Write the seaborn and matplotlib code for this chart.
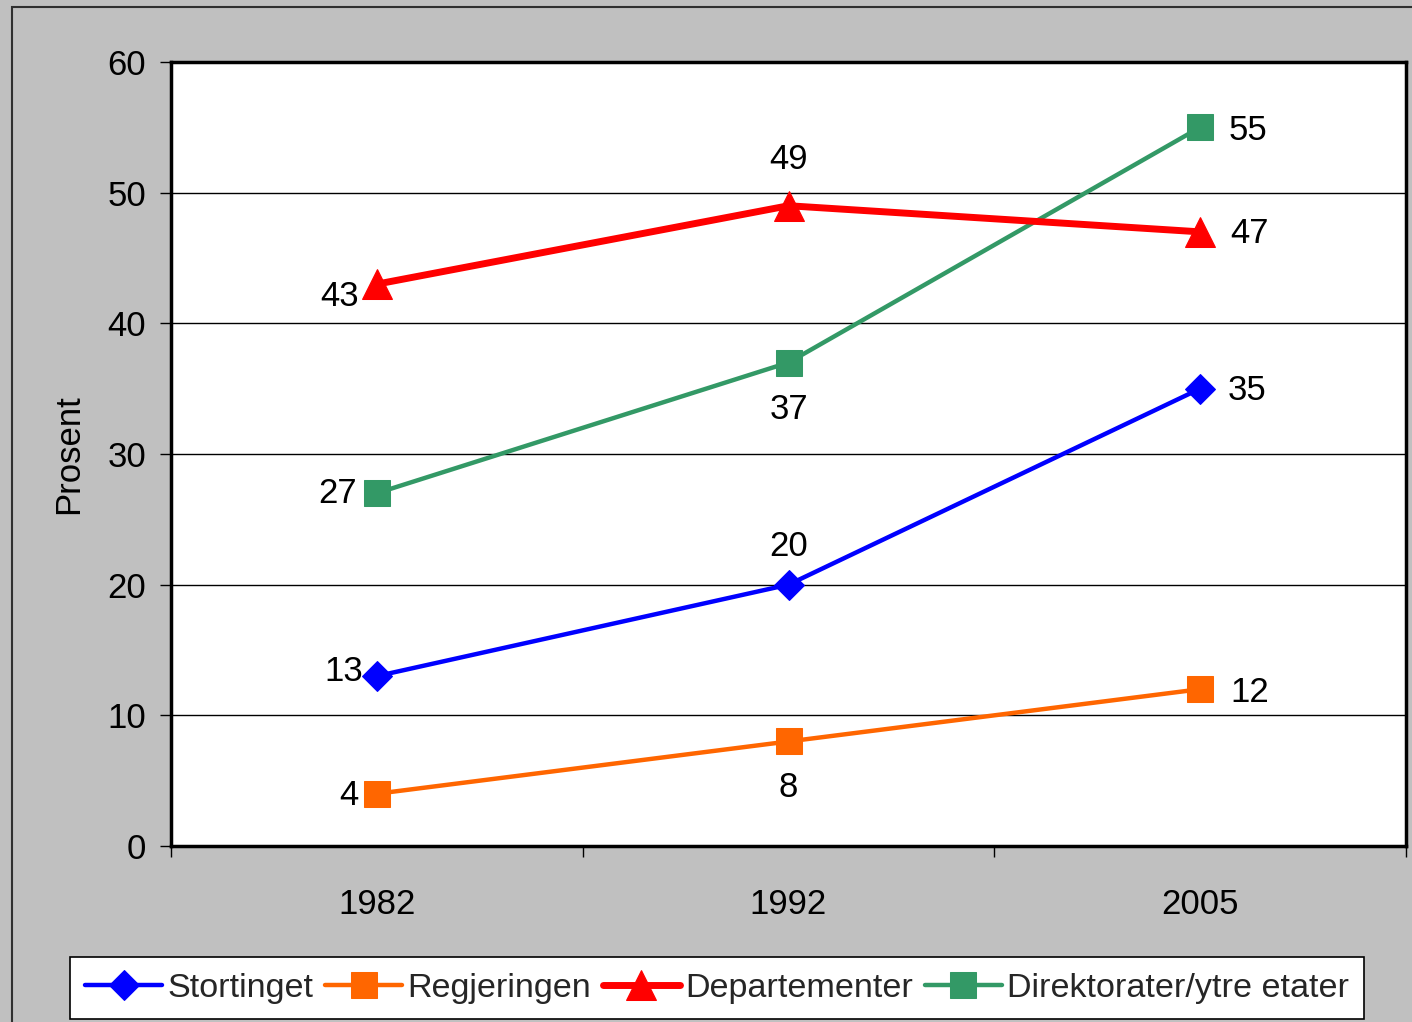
import matplotlib
matplotlib.use("Agg")
import matplotlib.pyplot as plt
import matplotlib.patches as mpatches
import pandas as pd
import seaborn as sns

# data
YEARS = ["1982", "1992", "2005"]
SERIES = ["Stortinget", "Regjeringen", "Departementer", "Direktorater/ytre etater"]
STORTINGET = [13, 20, 35]
REGJERINGEN = [4, 8, 12]
DEPARTEMENTER = [43, 49, 47]
DIREKTORATER = [27, 37, 55]

COLORS = {
    "Stortinget": "#0000FF",
    "Regjeringen": "#FF6600",
    "Departementer": "#FF0000",
    "Direktorater/ytre etater": "#339966",
}
MARKERS = {
    "Stortinget": "D",
    "Regjeringen": "s",
    "Departementer": "^",
    "Direktorater/ytre etater": "s",
}
MSIZES = {"Stortinget": 15, "Regjeringen": 18.5, "Departementer": 21.5,
          "Direktorater/ytre etater": 18.5}
LWIDTHS = {"Stortinget": 3.2, "Regjeringen": 3.2, "Departementer": 5.0,
           "Direktorater/ytre etater": 3.2}
# label offsets (pixels) per point, with alignment
LABEL_OFFS = {
    "Stortinget": [(-14, 5, "right"), (0, 38, "center"), (28, -2, "left")],
    "Regjeringen": [(-18, -2, "right"), (0, -46, "center"), (30, -3, "left")],
    "Departementer": [(-18, -12, "right"), (0, 46, "center"), (30, -2, "left")],
    "Direktorater/ytre etater": [(-20, 0, "right"), (0, -47, "center"), (28, -3, "left")],
}

values = [STORTINGET, REGJERINGEN, DEPARTEMENTER, DIREKTORATER]
rows = []
for name, vals in zip(SERIES, values):
    for i, (yr, v) in enumerate(zip(YEARS, vals)):
        rows.append({"serie": name, "year": yr, "x": i, "value": v})
df = pd.DataFrame(rows)

sns.set_theme(style="white")
plt.rcParams["font.family"] = ["Liberation Sans", "DejaVu Sans"]
FS = 25
PX = 72 / 100  # pixels -> points

fig = plt.figure(figsize=(14.12, 10.22), dpi=100)
fig.patch.set_facecolor("#C0C0C0")
# chart-area border (continues past right and bottom edge)
fig.patches.append(mpatches.Rectangle((12 / 1412, -0.1), 1.2, 1 - 7 / 1022 + 0.1,
                                      transform=fig.transFigure, fill=False,
                                      edgecolor="#303030", linewidth=1.5))

ax = fig.add_axes([171 / 1412, 1 - 846 / 1022, (1406 - 171) / 1412, (846 - 62) / 1022])
ax.set_facecolor("white")

order_draw = ["Regjeringen", "Stortinget", "Direktorater/ytre etater", "Departementer"]
for name in order_draw:
    sub = df[df["serie"] == name]
    sns.lineplot(data=sub, x="x", y="value", ax=ax, color=COLORS[name],
                 marker=MARKERS[name], markersize=MSIZES[name],
                 markeredgecolor=COLORS[name], linewidth=LWIDTHS[name],
                 label=name, zorder=3)

for name in SERIES:
    sub = df[df["serie"] == name]
    for (_, r), (dx, dy, ha) in zip(sub.iterrows(), LABEL_OFFS[name]):
        ax.annotate(str(r["value"]), (r["x"], r["value"]), xytext=(dx * PX, dy * PX),
                    textcoords="offset points", ha=ha, va="center", fontsize=FS,
                    color="black")

ax.set_xlim(-0.5, 2.5)
ax.set_ylim(0, 60)
ax.set_yticks(range(0, 61, 10))
ax.set_xticks([-0.5, 0.5, 1.5, 2.5])
ax.set_xticklabels([])
ax.set_xticks(range(len(YEARS)), minor=True)
ax.set_xticklabels(YEARS, minor=True)
ax.tick_params(axis="x", which="minor", length=0, pad=30, labelsize=FS)
ax.tick_params(axis="x", which="major", direction="out", length=8, width=1, color="black")
ax.tick_params(axis="y", direction="out", length=8, width=1, color="black",
               labelsize=FS, pad=10)
ax.tick_params(axis="both", bottom=True, left=True)
for t in ax.get_xticklabels(minor=True) + ax.get_yticklabels():
    t.set_color("black")
ax.yaxis.grid(True, color="black", linewidth=1)
ax.set_axisbelow(True)
for s in ax.spines.values():
    s.set_color("black")
    s.set_linewidth(2.5)
    s.set_visible(True)
ax.set_xlabel("")
ax.set_ylabel("Prosent", fontsize=FS, color="black", labelpad=16)

handles, labels = ax.get_legend_handles_labels()
hmap = dict(zip(labels, handles))
leg = ax.legend([hmap[n] for n in SERIES], SERIES, ncol=4, loc="center",
                bbox_to_anchor=(717 / 1412, 1 - 988 / 1022), bbox_transform=fig.transFigure,
                fontsize=24.6, frameon=True, fancybox=False, edgecolor="black",
                facecolor="white", framealpha=1, handlelength=2.25, handletextpad=0.15,
                columnspacing=0.35, borderpad=0.45, borderaxespad=0)
leg.get_frame().set_linewidth(1.2)

fig.savefig("out.png", dpi=100, facecolor=fig.get_facecolor())
